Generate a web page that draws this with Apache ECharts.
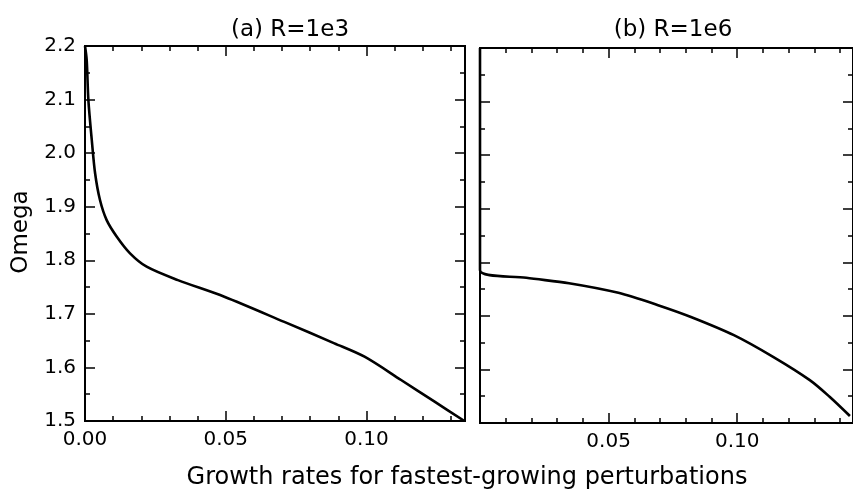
<!DOCTYPE html>
<html>
<head>
<meta charset="utf-8">
<script src="https://cdn.jsdelivr.net/npm/echarts@6/dist/echarts.min.js"></script>
<style>html,body{margin:0;padding:0;background:#fff;}#c{width:853px;height:495px;}</style>
</head>
<body>
<div id="c"></div>
<script>
// Panel (a) R=1e3
var growthA = [0, 0.0006, 0.0012, 0.0024, 0.0036, 0.0053, 0.0077, 0.0113, 0.016, 0.0219, 0.033, 0.0495, 0.0708, 0.0886, 0.0993, 0.1123, 0.1242, 0.1348];
var omegaA  = [2.2, 2.174, 2.099, 2.025, 1.962, 1.913, 1.875, 1.844, 1.813, 1.788, 1.763, 1.732, 1.685, 1.645, 1.620, 1.5765, 1.536, 1.5];
// Panel (b) R=1e6
var growthB = [0, 0, 0.018, 0.0346, 0.0538, 0.0692, 0.082, 0.0987, 0.1141, 0.1282, 0.1359, 0.1438];
var omegaB  = [2.2, 1.785, 1.771, 1.761, 1.743, 1.720, 1.698, 1.664, 1.623, 1.580, 1.549, 1.513];
var titles = ['(a) R=1e3', '(b) R=1e6'];
var xName = 'Growth rates for fastest-growing perturbations';
var yName = 'Omega';
var xMaxA = 0.135, xMaxB = 0.145, yMin = 1.5, yMax = 2.2;

var FONT = 'DejaVu Sans';
var grids = [
  {left: 85, top: 46, width: 380, height: 375},
  {left: 480, top: 48, width: 377, height: 375}
];
function xAx(grid, pos, major, max, showLabel, hideMin) {
  return {
    type: 'value', gridIndex: grid, position: pos, min: 0, max: max,
    interval: major ? 0.05 : 0.01,
    axisLine: {show: true, onZero: false, lineStyle: {color: '#000', width: 2}},
    axisTick: {show: true, inside: true, length: major ? 10 : 5, lineStyle: {color: '#000', width: 1.5}},
    axisLabel: {show: showLabel, showMaxLabel: false, showMinLabel: !hideMin, color: '#000', fontFamily: FONT, fontSize: 20, margin: 9,
      formatter: function (v) { return v.toFixed(2); }},
    splitLine: {show: false}
  };
}
function yAx(grid, pos, major, showLabel) {
  return {
    type: 'value', gridIndex: grid, position: pos, min: yMin, max: yMax,
    interval: major ? 0.1 : 0.05,
    axisLine: {show: true, onZero: false, lineStyle: {color: '#000', width: 2}},
    axisTick: {show: true, inside: true, length: major ? 10 : 5, lineStyle: {color: '#000', width: 1.5}},
    axisLabel: {show: showLabel, color: '#000', fontFamily: FONT, fontSize: 20, margin: 9,
      formatter: function (v) { return v.toFixed(1); }},
    splitLine: {show: false}
  };
}
var xAxes = [
  xAx(0, 'bottom', true, xMaxA, true, false),
  xAx(0, 'bottom', false, xMaxA, false),
  xAx(0, 'top', true, xMaxA, false),
  xAx(0, 'top', false, xMaxA, false),
  xAx(1, 'bottom', true, xMaxB, true, true),
  xAx(1, 'bottom', false, xMaxB, false),
  xAx(1, 'top', true, xMaxB, false),
  xAx(1, 'top', false, xMaxB, false)
];
var yAxes = [
  yAx(0, 'left', true, true),
  yAx(0, 'left', false, false),
  yAx(0, 'right', true, false),
  yAx(0, 'right', false, false),
  yAx(1, 'left', true, false),
  yAx(1, 'left', false, false),
  yAx(1, 'right', true, false),
  yAx(1, 'right', false, false)
];
function pairs(xs, ys) { return xs.map(function (x, i) { return [x, ys[i]]; }); }

var chart = echarts.init(document.getElementById('c'), null, {renderer: 'canvas'});
chart.setOption({
  animation: false,
  backgroundColor: '#fff',
  grid: grids,
  xAxis: xAxes,
  yAxis: yAxes,
  series: [
    {type: 'line', xAxisIndex: 0, yAxisIndex: 0, data: pairs(growthA, omegaA), showSymbol: false, smooth: 0.3,
      lineStyle: {color: '#000', width: 2.6}},
    {type: 'line', xAxisIndex: 4, yAxisIndex: 4, data: pairs(growthB, omegaB), showSymbol: false, smooth: 0.3,
      lineStyle: {color: '#000', width: 2.6}}
  ],
  graphic: [
    {type: 'text', x: 290, y: 30, style: {text: titles[0], font: '23px "' + FONT + '"', fill: '#000', align: 'center', verticalAlign: 'middle'}},
    {type: 'text', x: 673, y: 30, style: {text: titles[1], font: '23px "' + FONT + '"', fill: '#000', align: 'center', verticalAlign: 'middle'}},
    {type: 'text', x: 467, y: 478, style: {text: xName, font: '24px "' + FONT + '"', fill: '#000', align: 'center', verticalAlign: 'middle'}},
    {type: 'text', x: 21, y: 232, rotation: Math.PI / 2, style: {text: yName, font: '23px "' + FONT + '"', fill: '#000', align: 'center', verticalAlign: 'middle'}}
  ]
});
</script>
</body>
</html>
